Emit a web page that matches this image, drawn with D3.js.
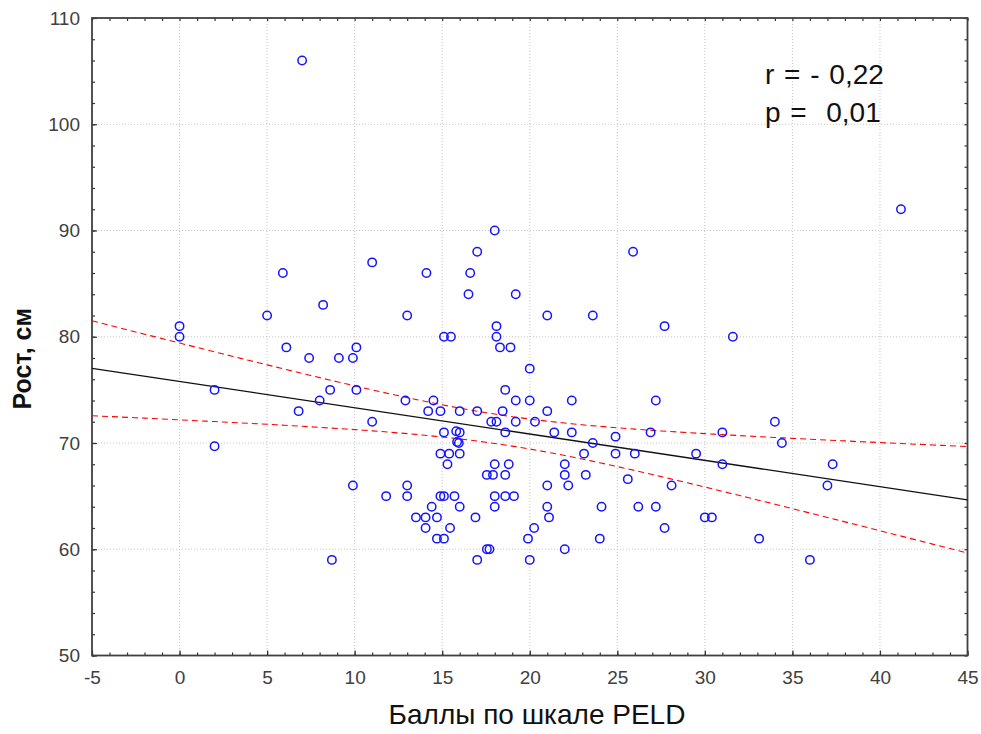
<!DOCTYPE html>
<html>
<head>
<meta charset="utf-8">
<script src="https://cdn.jsdelivr.net/npm/d3@7"></script>
<style>
  body { margin: 0; background: #fff; }
  text { font-family: Arial, "Liberation Sans", sans-serif; }
</style>
</head>
<body>
<div class="canvas"></div>
<script>
// DATA --------------------------------------------------------------------------
// PELD score (x) and height in cm (y)
const peldScores = [
  0, 0, 2, 2, 5, 5.9, 6.1, 7, 6.8, 7.4, 8, 8.2, 8.6, 8.7, 9.1, 9.9, 10.1, 9.9, 10.1,
  11, 11, 11.8, 13, 12.9, 13, 13, 13.5, 14.1, 14.05, 14.05, 14.2, 14.4, 14.5, 14.7,
  14.7, 14.9, 14.9, 14.9, 15.1, 15.1, 15.1, 15.1, 15.3, 15.45, 15.4, 15.5, 15.7,
  15.85, 15.95, 16, 15.8, 16, 16, 16, 16.5, 16.6, 16.9, 17, 17, 17, 17.55, 17.55,
  17.7, 17.9, 18, 17.8, 18.1, 18, 18, 18, 18.1, 18.1, 18.3, 18.45, 18.6, 18.6, 18.6,
  18.6, 18.8, 18.9, 19.1, 19.2, 19.2, 19.2, 20, 20, 19.9, 20, 20.25, 20.3, 21, 21,
  21, 21.1, 21, 21.4, 22, 22, 22, 22.2, 22.4, 22.4, 23.1, 23.2, 23.6, 23.6, 24.1, 24,
  24.9, 24.9, 25.9, 25.6, 26, 26.2, 26.9, 27.2, 27.2, 27.7, 27.7, 28.1, 29.5, 30,
  30.4, 31, 31, 31.6, 33.1, 34, 34.4, 36, 37, 37.3, 41.2
];
const heights = [
  81, 80, 75, 69.7, 82, 86, 79, 106, 73, 78, 74, 83, 75, 59, 78, 78, 79, 66, 75,
  87, 72, 65, 82, 74, 66, 65, 63, 86, 63, 62, 73, 64, 74, 61,
  63, 69, 73, 65, 71, 61, 65, 80, 68, 62, 69, 80, 65,
  70.1, 70, 73, 71.1, 71, 64, 69, 84, 86, 63, 88, 59, 73, 67, 60,
  60, 67, 64, 72, 72, 68, 65, 90, 81, 80, 79, 73, 75, 67, 71,
  65, 68, 79, 65, 74, 72, 84, 77, 74, 61, 59, 62, 72, 82, 73,
  64, 63, 66, 71, 68, 67, 60, 66, 74, 71, 69, 67, 82, 70, 64, 61,
  70.6, 69, 88, 66.6, 69, 64, 71, 74, 64, 62, 81, 66, 69, 63,
  63, 71, 68, 80, 61, 72, 70, 59, 66, 68, 92
];
const xTicks = [-5, 0, 5, 10, 15, 20, 25, 30, 35, 40, 45];
const yTicks = [50, 60, 70, 80, 90, 100, 110];
const statLines = ['r = - 0,22', 'p =  0,01'];
const xTitle = 'Баллы по шкале PELD';
const yTitle = 'Рост, см';

// SET UP GRAPH ------------------------------------------------------------------
const width = 981, height = 734;
const margin = { top: 18, right: 13.5, bottom: 78.5, left: 92 };
const graphWidth = width - margin.left - margin.right;
const graphHeight = height - margin.top - margin.bottom;

const svg = d3.select('.canvas')
  .append('svg')
    .attr('width', width)
    .attr('height', height);

const graph = svg.append('g')
  .attr('transform', `translate(${margin.left}, ${margin.top})`);

const x = d3.scaleLinear().domain([-5, 45]).range([0, graphWidth]);
const y = d3.scaleLinear().domain([50, 110]).range([graphHeight, 0]);

// Grid lines (dotted)
const grid = graph.append('g');
grid.selectAll('.gx').data(xTicks.slice(1, -1)).enter().append('line')
  .attr('x1', d => x(d)).attr('x2', d => x(d))
  .attr('y1', 0).attr('y2', graphHeight);
grid.selectAll('.gy').data(yTicks.slice(1, -1)).enter().append('line')
  .attr('y1', d => y(d)).attr('y2', d => y(d))
  .attr('x1', 0).attr('x2', graphWidth);
grid.selectAll('line')
  .attr('stroke', '#c4c4c4')
  .attr('stroke-width', 1)
  .attr('stroke-dasharray', '1,2');

// Minor + major ticks on all four sides, pointing inwards
const xMinor = d3.range(-5, 45.01, 1);
const yMinor = d3.range(50, 110.01, 2);
const axisStyle = g => {
  g.select('.domain').remove();
  g.selectAll('line').attr('stroke', '#333').attr('stroke-width', 1.2);
  g.selectAll('text').attr('fill', '#404040').style('font-size', '19px')
    .style('font-family', 'Arial, "Liberation Sans", sans-serif');
};
graph.append('g').attr('transform', `translate(0, ${graphHeight})`)
  .call(d3.axisBottom(x).tickValues(xMinor).tickSize(-3).tickFormat(''))
  .call(axisStyle);
graph.append('g')
  .call(d3.axisTop(x).tickValues(xMinor).tickSize(-3).tickFormat(''))
  .call(axisStyle);
graph.append('g')
  .call(d3.axisLeft(y).tickValues(yMinor).tickSize(-3).tickFormat(''))
  .call(axisStyle);
graph.append('g').attr('transform', `translate(${graphWidth}, 0)`)
  .call(d3.axisRight(y).tickValues(yMinor).tickSize(-3).tickFormat(''))
  .call(axisStyle);

graph.append('g').attr('transform', `translate(0, ${graphHeight})`)
  .call(d3.axisBottom(x).tickValues(xTicks).tickSize(-5).tickPadding(15).tickFormat(d => String(d)))
  .call(axisStyle);
graph.append('g')
  .call(d3.axisLeft(y).tickValues(yTicks).tickSize(-5).tickPadding(12).tickFormat(d => String(d)))
  .call(axisStyle);

// Frame
graph.append('rect')
  .attr('width', graphWidth)
  .attr('height', graphHeight)
  .attr('fill', 'none')
  .attr('stroke', '#404040')
  .attr('stroke-width', 1.8);

// REGRESSION + 95% CONFIDENCE BAND ---------------------------------------------
const n = peldScores.length;
const mx = d3.mean(peldScores), my = d3.mean(heights);
let sxx = 0, sxy = 0;
peldScores.forEach((xi, i) => { sxx += (xi - mx) ** 2; sxy += (xi - mx) * (heights[i] - my); });
const slope = sxy / sxx;
const intercept = my - slope * mx;
let sse = 0;
peldScores.forEach((xi, i) => { sse += (heights[i] - intercept - slope * xi) ** 2; });
const se = Math.sqrt(sse / (n - 2));
const tCrit = 1.978;                        // t(0.975, n - 2)
const bandX = d3.range(-5, 45.01, 0.5);
const fit = xv => intercept + slope * xv;
const half = xv => tCrit * se * Math.sqrt(1 / n + (xv - mx) ** 2 / sxx);

const line = d3.line().x(d => x(d[0])).y(d => y(d[1]));
graph.append('path')
  .datum(bandX.map(v => [v, fit(v) + half(v)]))
  .attr('d', line).attr('fill', 'none')
  .attr('stroke', '#ff0000').attr('stroke-width', 1.1).attr('stroke-dasharray', '6,4');
graph.append('path')
  .datum(bandX.map(v => [v, fit(v) - half(v)]))
  .attr('d', line).attr('fill', 'none')
  .attr('stroke', '#ff0000').attr('stroke-width', 1.1).attr('stroke-dasharray', '6,4');
graph.append('path')
  .datum([[-5, fit(-5)], [45, fit(45)]])
  .attr('d', line).attr('fill', 'none')
  .attr('stroke', '#111').attr('stroke-width', 1.3);

// POINTS ---------------------------------------------------------------------
graph.selectAll('circle')
  .data(peldScores.map((v, i) => [v, heights[i]]))
  .enter().append('circle')
    .attr('cx', d => x(d[0]))
    .attr('cy', d => y(d[1]))
    .attr('r', 4.2)
    .attr('fill', 'none')
    .attr('stroke', '#1414ff')
    .attr('stroke-width', 1.5);

// TEXT -----------------------------------------------------------------------
svg.selectAll('.stat').data(statLines).enter().append('text')
  .attr('x', 765)
  .attr('y', (d, i) => 84 + i * 37.5)
  .style('font-size', '28px')
  .style('word-spacing', '2px')
  .style('white-space', 'pre')
  .attr('fill', '#111')
  .text(d => d);

svg.append('text')
  .attr('text-anchor', 'middle')
  .attr('x', 537)
  .attr('y', 724)
  .style('font-size', '28px')
  .attr('fill', '#111')
  .text(xTitle);

svg.append('text')
  .attr('text-anchor', 'middle')
  .attr('transform', `translate(31, ${margin.top + graphHeight / 2 + 22}) rotate(-90)`)
  .style('font-size', '25px')
  .style('font-weight', 'bold')
  .attr('fill', '#111')
  .text(yTitle);
</script>
</body>
</html>
